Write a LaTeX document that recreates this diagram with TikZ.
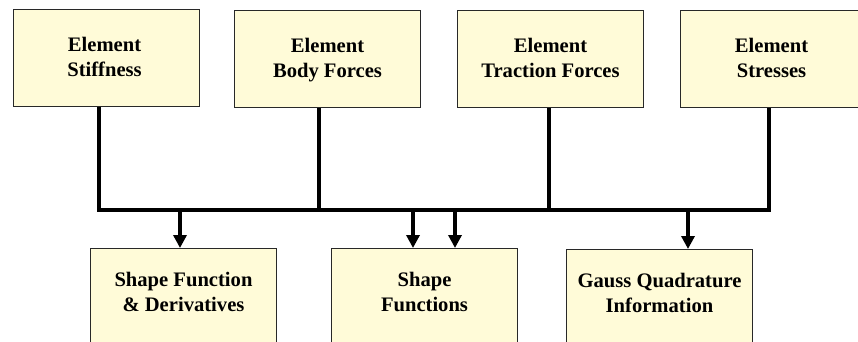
\documentclass[tikz,border=0pt]{standalone}
\usepackage{fontspec}
\setmainfont{Liberation Serif}
\usetikzlibrary{arrows.meta}
\definecolor{boxfill}{RGB}{255,251,216}
\definecolor{boxline}{RGB}{40,40,40}
\begin{document}
\begin{tikzpicture}[x=1pt,y=-1pt,
  box/.style={draw=boxline,line width=1pt,fill=boxfill,anchor=north west,
    minimum width=186pt,minimum height=97pt,inner sep=0pt},
  boxb/.style={box,minimum height=104pt},
  lbl/.style={anchor=north,align=center,inner sep=0pt,
    font=\fontsize{20.6}{25}\selectfont\bfseries},
  wire/.style={line width=3.8pt,line join=miter},
  arr/.style={line width=3.3pt,-{Triangle[length=13pt,width=13pt]}}]
\useasboundingbox (0,0) rectangle (858,341);
\clip (0,0) rectangle (858,341);
% top boxes
\node[box] (t1) at (13,9) {};
\node[box] (t2) at (234,10) {};
\node[box] (t3) at (457,10) {};
\node[box] (t4) at (680,10) {};
% bottom boxes
\node[boxb] (b1) at (90,248) {};
\node[boxb] (b2) at (331,248) {};
\node[boxb] (b3) at (566,249) {};
% labels
\node[lbl] (l1) at ([yshift=-28pt,xshift=-2pt]t1.north) {Element\\Stiffness};
\node[lbl] (l2) at ([yshift=-28pt]t2.north) {Element\\Body Forces};
\node[lbl] (l3) at ([yshift=-28pt]t3.north) {Element\\Traction Forces};
\node[lbl] (l4) at ([yshift=-28pt,xshift=-2pt]t4.north) {Element\\Stresses};
\node[lbl] (l5) at ([yshift=-24pt]b1.north) {Shape Function\\\& Derivatives};
\node[lbl] (l6) at ([yshift=-24pt]b2.north) {Shape\\Functions};
\node[lbl] (l7) at ([yshift=-24pt]b3.north) {Gauss Quadrature\\Information};
% bus coordinates
\coordinate (c1) at (99,210);
\coordinate (c2) at (319,210);
\coordinate (c3) at (549,210);
\coordinate (c4) at (769,210);
\coordinate (a1) at (180,210);
\coordinate (a2) at (413,210);
\coordinate (a3) at (455,210);
\coordinate (a4) at (688,210);
% wires
\draw[wire] (t1.south -| c1) -- (c1) -- (c4) -- (t4.south -| c4);
\draw[wire] (t2.south -| c2) -- (c2);
\draw[wire] (t3.south -| c3) -- (c3);
% arrows
\draw[arr] (a1) -- (b1.north -| a1);
\draw[arr] (a2) -- (b2.north -| a2);
\draw[arr] (a3) -- (b2.north -| a3);
\draw[arr] (a4) -- (b3.north -| a4);
\end{tikzpicture}
\end{document}
